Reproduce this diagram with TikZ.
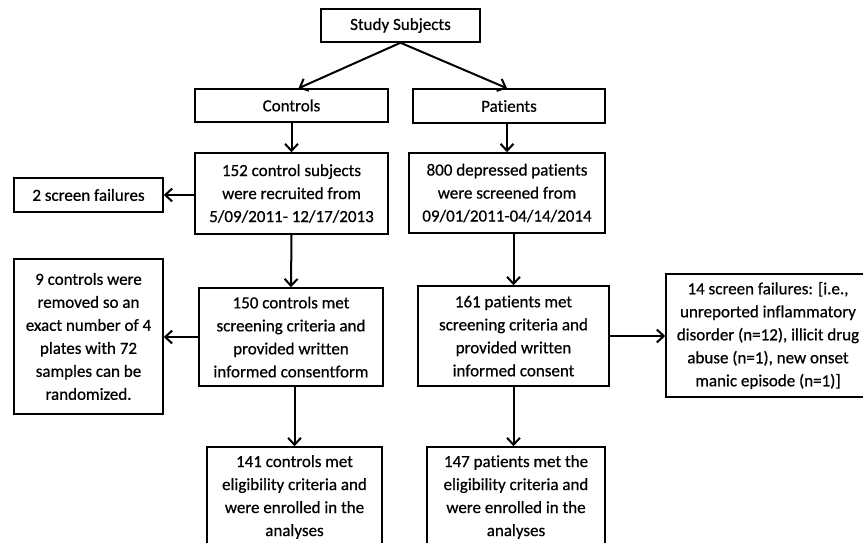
\documentclass[tikz,border=0pt]{standalone}
\usepackage{fontspec}
\setmainfont[Ligatures=NoCommon,FakeBold=0.6]{Carlito}
\usetikzlibrary{arrows.meta}
\begin{document}
\begin{tikzpicture}[x=1pt,y=-1pt,
  box/.style={draw, line width=1.5pt, align=center, inner sep=0pt,
    font=\fontsize{17}{23}\selectfont},
  arr/.style={line width=2pt, -{Straight Barb[length=7pt,width=13pt,line width=2pt]}}]
\useasboundingbox (0,0) rectangle (863,542);
\clip (0,0) rectangle (863,542);
\node[box, minimum width=159pt, minimum height=33pt] (ss) at (400.5,25.5) {Study Subjects};
\node[box, minimum width=193pt, minimum height=33pt] (ctrl) at (291.5,105.5) {Controls};
\node[box, minimum width=192pt, minimum height=34pt] (pat) at (509,106) {Patients};
\node[box, minimum width=193pt, minimum height=81pt] (c152) at (291.5,193.5) {152 control subjects\\were recruited from\\5/09/2011- 12/17/2013};
\node[box, minimum width=196pt, minimum height=80pt] (p800) at (507,193) {800 depressed patients\\were screened from\\09/01/2011-04/14/2014};
\node[box, minimum width=149pt, minimum height=34pt] (sf2) at (88.5,195) {2 screen failures};
\node[box, minimum width=184pt, minimum height=98pt] (c150) at (291,337) {150 controls met\\screening criteria and\\provided written\\informed consentform};
\node[box, minimum width=191pt, minimum height=100pt] (p161) at (513.5,336) {161 patients met\\screening criteria and\\provided written\\informed consent};
\node[box, minimum width=149pt, minimum height=155pt] (c9) at (88.5,336.5) {9 controls were\\removed so an\\exact number of 4\\plates with 72\\samples can be\\randomized.};
\node[box, minimum width=204pt, minimum height=123pt] (sf14) at (768,335.5) {14 screen failures: [i.e.,\\unreported inflammatory\\disorder (n=12), illicit drug\\abuse (n=1), new onset\\manic episode (n=1)]};
\node[box, minimum width=175pt, minimum height=100pt] (c141) at (294.5,497) {141 controls met\\eligibility criteria and\\were enrolled in the\\analyses};
\node[box, minimum width=178pt, minimum height=100pt] (p147) at (516,497) {147 patients met the\\eligibility criteria and\\were enrolled in the\\analyses};
\draw[arr] (ss.south) -- ([xshift=7pt]ctrl.north);
\draw[arr] (ss.south) -- ([xshift=-2pt]pat.north);
\draw[arr] (ctrl.south) -- (c152.north);
\draw[arr] (p800.north |- pat.south) -- (p800.north);
\draw[arr] (sf2.east -| c152.west) -- (sf2.east);
\draw[arr] (c152.south) -- (c150.north);
\draw[arr] (p161.north |- p800.south) -- (p161.north);
\draw[arr] (c150.west) -- (c150.west -| c9.east);
\draw[arr] (p161.east) -- (p161.east -| sf14.west);
\draw[arr] (c141.north |- c150.south) -- (c141.north);
\draw[arr] (p161.south) -- (p161.south |- p147.north);
\end{tikzpicture}
\end{document}
